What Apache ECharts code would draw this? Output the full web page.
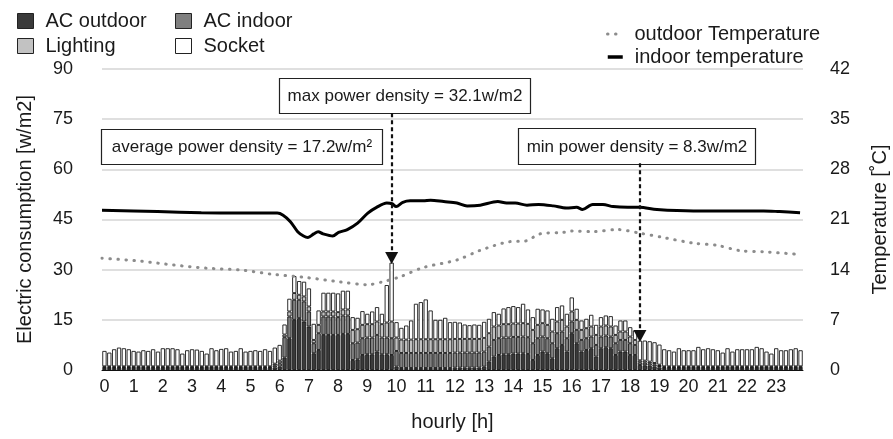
<!DOCTYPE html>
<html>
<head>
<meta charset="utf-8">
<script src="https://cdn.jsdelivr.net/npm/echarts@6/dist/echarts.min.js"></script>
<style>
    html, body { margin: 0; padding: 0; background: #fff; }
    #chart { width: 893px; height: 439px; }
</style>
</head>
<body>
<div id="chart"></div>
<script>
// 横轴：每小时 6 个 10 分钟时段
const hourLabels = ['0', '1', '2', '3', '4', '5', '6', '7', '8', '9', '10', '11',
    '12', '13', '14', '15', '16', '17', '18', '19', '20', '21', '22', '23']
const minuteMarks = ['00', '10', '20', '30', '40', '50']

// 各用电分项 [w/m2]，每行 12 个时段（2 小时）
const acOutdoor = [
    0.6, 0.6, 0.6, 0.6, 0.6, 0.6, 0.6, 0.6, 0.6, 0.6, 0.6, 0.6,
    0.6, 0.6, 0.6, 0.6, 0.6, 0.6, 0.6, 0.6, 0.6, 0.6, 0.6, 0.6,
    0.6, 0.6, 0.6, 0.6, 0.6, 0.6, 0.6, 0.6, 0.6, 0.6, 0.6, 0.8,
    1.0, 3.7, 9.5, 15.0, 15.5, 14.5, 13.0, 5.0, 6.0, 10.5, 10.5, 10.5,
    10.5, 10.8, 10.8, 3.0, 3.2, 4.5, 4.7, 4.7, 5.5, 4.7, 4.7, 4.5,
    1.0, 0.6, 0.6, 0.6, 0.6, 0.6, 0.6, 0.6, 0.6, 0.6, 0.6, 0.6,
    0.7, 0.7, 0.7, 0.7, 0.7, 0.7, 1.0, 2.5, 4.0, 4.5, 4.7, 4.7,
    4.9, 4.9, 5.0, 4.8, 3.0, 4.5, 5.5, 5.0, 3.5, 6.5, 7.5, 5.5,
    11.0, 8.0, 5.5, 6.0, 6.5, 4.0, 6.5, 6.8, 6.5, 4.5, 5.5, 5.5,
    4.5, 4.5, 1.5, 1.4, 1.3, 1.0, 0.8, 0.6, 0.6, 0.6, 0.6, 0.6,
    0.6, 0.6, 0.6, 0.6, 0.6, 0.6, 0.6, 0.6, 0.6, 0.6, 0.6, 0.6,
    0.6, 0.6, 0.6, 0.6, 0.6, 0.6, 0.6, 0.6, 0.6, 0.6, 0.6, 0.6
]
const acIndoor = [
    0.2, 0.2, 0.2, 0.2, 0.2, 0.2, 0.2, 0.2, 0.2, 0.2, 0.2, 0.2,
    0.2, 0.2, 0.2, 0.2, 0.2, 0.2, 0.2, 0.2, 0.2, 0.2, 0.2, 0.2,
    0.2, 0.2, 0.2, 0.2, 0.2, 0.2, 0.2, 0.2, 0.2, 0.2, 0.2, 0.6,
    1.0, 6.1, 6.5, 6.0, 5.5, 6.0, 4.5, 3.0, 5.0, 5.5, 5.5, 5.5,
    5.3, 5.5, 5.5, 5.0, 5.0, 5.0, 5.0, 5.0, 5.0, 5.0, 5.0, 5.0,
    4.7, 4.5, 4.5, 4.5, 4.5, 4.5, 4.5, 4.5, 4.5, 4.5, 4.5, 4.5,
    4.5, 4.5, 4.5, 4.5, 4.5, 4.5, 4.5, 4.5, 5.0, 5.0, 5.0, 5.0,
    5.0, 5.0, 5.0, 5.0, 5.0, 5.0, 4.5, 4.5, 4.5, 4.5, 4.0, 4.0,
    3.5, 4.0, 3.5, 3.5, 3.5, 3.5, 3.5, 3.5, 3.5, 3.5, 3.5, 3.5,
    3.5, 3.0, 0.8, 0.8, 0.7, 0.6, 0.4, 0.2, 0.2, 0.2, 0.2, 0.2,
    0.2, 0.2, 0.2, 0.2, 0.2, 0.2, 0.2, 0.2, 0.2, 0.2, 0.2, 0.2,
    0.2, 0.2, 0.2, 0.2, 0.2, 0.2, 0.2, 0.2, 0.2, 0.2, 0.2, 0.2
]
const lighting = [
    0.3, 0.3, 0.3, 0.3, 0.3, 0.3, 0.3, 0.3, 0.3, 0.3, 0.3, 0.3,
    0.3, 0.3, 0.3, 0.3, 0.3, 0.3, 0.3, 0.3, 0.3, 0.3, 0.3, 0.3,
    0.3, 0.3, 0.3, 0.3, 0.3, 0.3, 0.3, 0.3, 0.3, 0.3, 0.3, 0.5,
    0.8, 0.8, 1.5, 2.0, 1.5, 1.5, 1.5, 1.0, 2.5, 1.5, 1.5, 1.5,
    1.5, 1.8, 1.8, 4.0, 4.0, 4.0, 4.0, 4.0, 4.0, 4.0, 4.5, 5.0,
    4.0, 4.0, 4.0, 4.0, 4.1, 4.1, 4.1, 4.1, 4.1, 4.1, 4.1, 4.1,
    4.1, 4.1, 4.1, 4.1, 4.1, 4.1, 4.1, 4.0, 4.0, 3.8, 4.0, 4.0,
    4.0, 4.0, 4.0, 4.0, 4.0, 4.0, 4.0, 4.0, 3.5, 3.5, 3.5, 3.5,
    3.0, 3.0, 3.0, 3.0, 3.0, 3.0, 3.0, 3.0, 3.0, 2.5, 2.5, 2.5,
    2.0, 1.5, 0.6, 0.6, 0.5, 0.5, 0.4, 0.3, 0.3, 0.3, 0.3, 0.3,
    0.3, 0.3, 0.3, 0.3, 0.3, 0.3, 0.3, 0.3, 0.3, 0.3, 0.3, 0.3,
    0.3, 0.3, 0.3, 0.3, 0.3, 0.3, 0.3, 0.3, 0.3, 0.3, 0.3, 0.3
]
const socket = [
    4.6, 4.1, 5.1, 5.6, 5.4, 5.1, 4.6, 4.4, 4.8, 4.6, 5.1, 4.4,
    5.4, 5.4, 5.4, 5.1, 3.8, 4.8, 5.1, 5.0, 4.6, 3.8, 5.4, 4.8,
    5.2, 5.4, 4.4, 4.6, 5.4, 4.4, 4.6, 4.8, 4.6, 5.1, 4.6, 4.8,
    4.7, 3.0, 3.8, 5.1, 4.1, 4.4, 5.4, 4.8, 4.3, 5.6, 5.6, 5.6,
    5.6, 5.6, 5.6, 3.8, 3.4, 4.1, 3.1, 3.8, 4.3, 3.1, 11.2, 17.6,
    4.6, 3.5, 4.2, 5.7, 10.6, 11.1, 11.9, 8.6, 5.8, 5.8, 6.4, 5.1,
    5.1, 4.9, 4.3, 4.1, 4.3, 4.2, 4.8, 4.3, 4.3, 3.5, 4.7, 5.1,
    5.2, 4.9, 5.8, 4.3, 3.8, 4.8, 4.1, 4.3, 3.8, 4.3, 4.3, 3.8,
    4.2, 3.3, 2.8, 2.8, 3.5, 3.0, 2.8, 3.0, 3.1, 2.8, 3.3, 3.3,
    2.8, 2.8, 5.9, 6.0, 6.1, 6.2, 6.0, 5.1, 4.8, 4.4, 5.4, 4.8,
    4.8, 4.8, 5.8, 5.1, 5.4, 5.1, 4.8, 4.1, 5.4, 4.4, 5.1, 5.1,
    5.1, 5.1, 5.8, 5.4, 4.4, 3.8, 5.4, 4.8, 4.8, 5.1, 5.4, 4.8
]

// 室内温度 [°C]
const indoorHours = [0, 1.9, 3.4, 4.7, 6.0, 6.2, 6.45, 6.7, 6.9, 7.05, 7.25, 7.4, 7.57, 7.9, 8.1,
    8.4, 8.75, 9.1, 9.4, 9.75, 9.93, 10.07, 10.3, 10.55, 11.0, 11.25, 11.7, 12.15, 12.5, 12.95,
    13.55, 13.85, 14.15, 14.55, 14.95, 15.45, 15.9, 16.25, 16.45, 16.8, 17.15, 17.5, 18.0,
    18.4, 19.0, 20.25, 22.65, 23.2, 23.9]
const indoorTemp = [22.3, 22.1, 21.95, 21.9, 21.9, 21.6, 20.7, 19.3, 18.7, 18.5, 19.0, 19.3, 19.0, 18.7, 19.2,
    19.6, 20.5, 21.9, 22.7, 23.3, 23.2, 22.8, 23.4, 23.6, 23.6, 23.7, 23.5, 23.3, 22.9, 23.0,
    23.5, 23.3, 23.3, 23.0, 23.1, 22.9, 22.6, 22.7, 22.4, 23.1, 23.1, 22.8, 22.7,
    22.7, 22.4, 22.2, 22.2, 22.1, 21.95]

// 室外温度 [°C]
const outdoorHours = [0, 1.3, 2.45, 3.6, 4.75, 5.85, 7.0, 8.15, 9.1, 9.6, 10.2, 11.0, 12.15, 12.95,
    13.95, 14.5, 15.0, 15.8, 16.05, 16.8, 17.65, 18.4, 19.2, 20.25, 21.05, 21.85, 22.65, 23.8]
const outdoorTemp = [15.6, 15.2, 14.65, 14.2, 13.95, 13.35, 12.9, 12.3, 11.9, 12.3, 13.0, 14.3, 15.35, 16.7,
    17.9, 18.0, 19.0, 19.2, 19.4, 19.3, 19.6, 19.1, 18.5, 17.7, 17.4, 16.65, 16.5, 16.15]

// 标注
const maxIdx = 59
const minIdx = 110
const maxText = 'max power density = 32.1w/m2'
const avgText = 'average power density = 17.2w/m\u00b2'
const minText = 'min power density = 8.3w/m2'

const FONT = '"Liberation Sans", Arial, sans-serif'

let slots = []
hourLabels.forEach(h => minuteMarks.forEach(m => slots.push(h + ':' + m)))

let totals = slots.map((s, i) => acOutdoor[i] + acIndoor[i] + lighting[i] + socket[i])

function pairs(xs, ys) {
    return xs.map((x, i) => [x, ys[i]])
}

function barSeries(name, data, color) {
    return {
        name: name,
        type: 'bar',
        stack: 'power',
        data: data,
        barCategoryGap: '12%',
        itemStyle: {
            color: color,
            borderColor: '#161616',
            borderWidth: 0.9
        },
        emphasis: { disabled: true }
    }
}

function legendAt(name, left, top, lineWidth) {
    let isLine = lineWidth > 0
    return {
        data: [name],
        left: left,
        top: top,
        icon: isLine ? undefined : 'rect',
        itemWidth: isLine ? 15 : 16,
        itemHeight: isLine ? 8 : 15,
        selectedMode: false,
        itemStyle: isLine ? { opacity: 0 } : { borderColor: '#222', borderWidth: 1 },
        lineStyle: isLine ? { width: lineWidth } : undefined,
        textStyle: {
            fontFamily: FONT,
            fontSize: 20,
            color: '#1a1a1a',
            padding: [0, 0, 0, 7]
        }
    }
}

var myChart = echarts.init(document.getElementById('chart'))

let socketSeries = barSeries('Socket', socket, '#ffffff')
socketSeries.markLine = {
    silent: true,
    animation: false,
    symbol: ['none', 'triangle'],
    symbolSize: [13, 12],
    label: { show: false },
    lineStyle: { color: '#111', type: [4, 3], width: 2.2 },
    data: [
        [{ coord: [slots[maxIdx], 76.8] }, { coord: [slots[maxIdx], totals[maxIdx] + 1.4] }],
        [{ coord: [slots[minIdx], 61.8] }, { coord: [slots[minIdx], totals[minIdx] + 1.4] }]
    ]
}

var option = {
    animation: false,
    backgroundColor: '#ffffff',
    textStyle: { fontFamily: FONT },
    grid: {
        left: 102,
        right: 90,
        top: 69,
        bottom: 69,
        outerBoundsMode: 'none'
    },
    legend: [
        legendAt('AC outdoor', 12, 6, 0),
        legendAt('AC indoor', 170, 6, 0),
        legendAt('Lighting', 12, 31, 0),
        legendAt('Socket', 170, 31, 0),
        legendAt('outdoor Temperature', 601, 19, 3),
        legendAt('indoor temperature', 601, 42, 3.5)
    ],
    xAxis: [
        {
            type: 'category',
            data: slots,
            name: 'hourly [h]',
            nameLocation: 'middle',
            nameGap: 42,
            nameTextStyle: { fontSize: 20, color: '#1a1a1a', fontFamily: FONT },
            axisLine: { lineStyle: { color: '#111', width: 1 } },
            axisTick: { show: false },
            axisLabel: {
                interval: 5,
                margin: 8,
                fontSize: 18,
                color: '#1a1a1a',
                fontFamily: FONT,
                formatter: v => v.split(':')[0]
            }
        },
        {
            type: 'value',
            min: 0,
            max: 24,
            show: false
        }
    ],
    yAxis: [
        {
            type: 'value',
            min: 0,
            max: 90,
            interval: 15,
            name: 'Electric consumption [w/m2]',
            nameLocation: 'middle',
            nameGap: 67,
            nameTextStyle: { fontSize: 20, color: '#1a1a1a', fontFamily: FONT },
            axisLine: { show: false },
            axisTick: { show: false },
            axisLabel: { margin: 29, fontSize: 18, color: '#1a1a1a', fontFamily: FONT },
            splitLine: { lineStyle: { color: '#d4d4d4', width: 1.5 } }
        },
        {
            type: 'value',
            min: 0,
            max: 42,
            interval: 7,
            position: 'right',
            name: 'Temperature [\u02daC]',
            nameLocation: 'middle',
            nameGap: 67,
            nameTextStyle: { fontSize: 20, color: '#1a1a1a', fontFamily: FONT },
            axisLine: { show: false },
            axisTick: { show: false },
            axisLabel: { margin: 27, fontSize: 18, color: '#1a1a1a', fontFamily: FONT },
            splitLine: { show: false }
        }
    ],
    series: [
        barSeries('AC outdoor', acOutdoor, '#3a3a3a'),
        barSeries('AC indoor', acIndoor, '#7f7f7f'),
        barSeries('Lighting', lighting, '#c2c2c2'),
        socketSeries,
        {
            name: 'outdoor Temperature',
            type: 'line',
            xAxisIndex: 1,
            yAxisIndex: 1,
            data: pairs(outdoorHours, outdoorTemp),
            smooth: 0.3,
            symbol: 'none',
            lineStyle: { color: '#8c8c8c', width: 3, type: [0.5, 7.5], cap: 'round' }
        },
        {
            name: 'indoor temperature',
            type: 'line',
            xAxisIndex: 1,
            yAxisIndex: 1,
            data: pairs(indoorHours, indoorTemp),
            smooth: 0.3,
            symbol: 'none',
            lineStyle: { color: '#000000', width: 3 }
        }
    ],
    graphic: [
        {
            type: 'rect',
            shape: { x: 279.5, y: 78.5, width: 251, height: 35 },
            style: { fill: '#fff', stroke: '#222', lineWidth: 1.2 }
        },
        {
            type: 'text',
            x: 405,
            y: 96,
            style: { text: maxText, font: '17px ' + FONT, fill: '#1a1a1a', align: 'center', verticalAlign: 'middle' }
        },
        {
            type: 'rect',
            shape: { x: 101.5, y: 129.5, width: 281, height: 35 },
            style: { fill: '#fff', stroke: '#222', lineWidth: 1.2 }
        },
        {
            type: 'text',
            x: 242,
            y: 147,
            style: { text: avgText, font: '17px ' + FONT, fill: '#1a1a1a', align: 'center', verticalAlign: 'middle' }
        },
        {
            type: 'rect',
            shape: { x: 518.5, y: 128.5, width: 237, height: 36 },
            style: { fill: '#fff', stroke: '#222', lineWidth: 1.2 }
        },
        {
            type: 'text',
            x: 637,
            y: 147,
            style: { text: minText, font: '17px ' + FONT, fill: '#1a1a1a', align: 'center', verticalAlign: 'middle' }
        }
    ]
}

myChart.setOption(option)
</script>
</body>
</html>
